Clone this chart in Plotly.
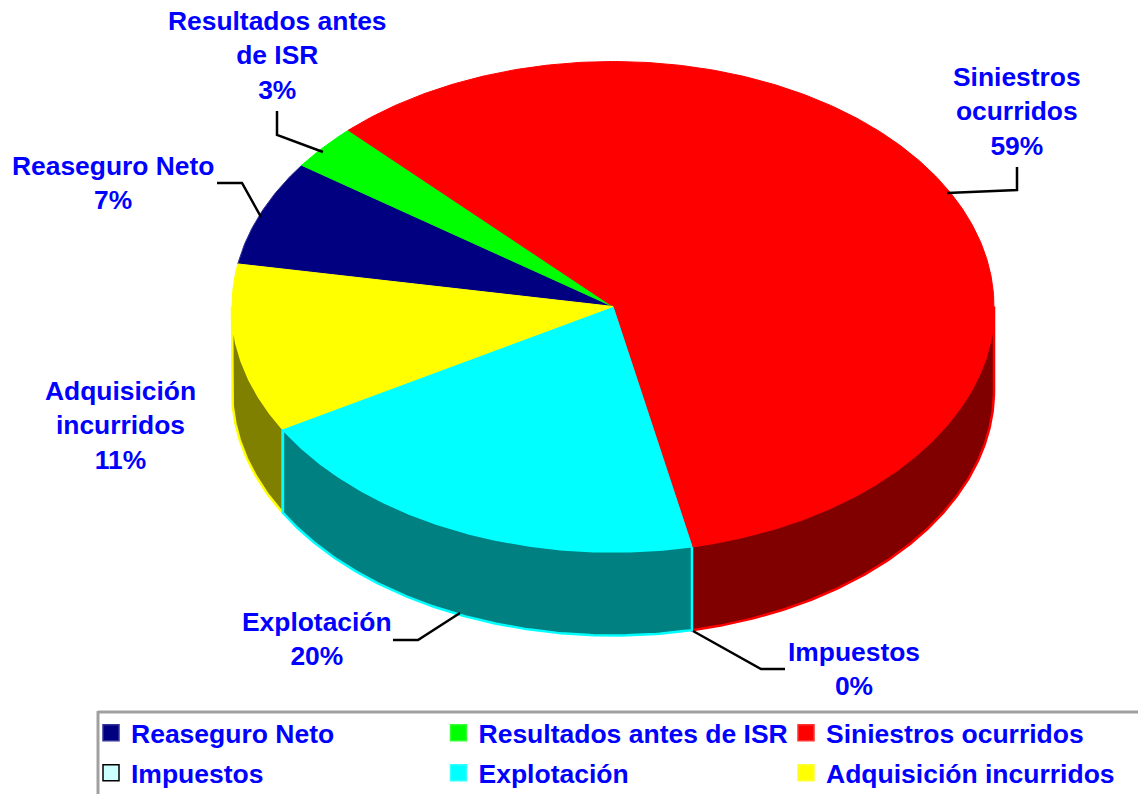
import numpy as np
import plotly.graph_objects as go

categories = ["Reaseguro Neto", "Resultados antes de ISR", "Siniestros ocurridos",
              "Impuestos", "Explotación", "Adquisición incurridos"]
values = [7, 3, 58.9, 0, 20, 11.1]
top_colors = ["#000080", "#00FF00", "#FF0000", "#CCFFFF", "#00FFFF", "#FFFF00"]
side_colors = ["#000040", "#008000", "#800000", "#668080", "#008080", "#808000"]
edge_colors = ["#333399", "#00FF00", "#FF0000", "#000000", "#00FFFF", "#FFFF00"]
legend_lines = ["#333399", "#33FF33", "#FF3333", "#000000", "#33FFFF", "#FFFF33"]

label_texts = ["Reaseguro Neto<br>7%", "Resultados antes<br>de ISR<br>3%", "Siniestros<br>ocurridos<br>59%",
               "Impuestos<br>0%", "Explotación<br>20%", "Adquisición<br>incurridos<br>11%"]
label_x = [113, 277, 1017, 854, 317, 120]
label_y = [183, 55, 111, 669, 639, 425]
leaders = [
    ([217, 242, 261], [183, 183, 217]),
    ([277, 277, 323], [111, 135, 152]),
    ([1017, 1017, 947], [167, 190, 193]),
    ([785, 761, 693], [669, 669, 631]),
    ([393, 418, 460], [640, 640, 613]),
]

CX, CY, RX, RY, DEPTH = 613, 306.5, 381, 245, 84
START = 280.0
FONT = "Liberation Sans"
BLUE = "#0000FF"
FS = 26.4
SIDE_ORDER = [0, 1, 2, 3, 5, 4]


def arc(a0, a1):
    n = max(2, int(abs(a1 - a0) * 2) + 2)
    t = np.radians(np.linspace(a0, a1, n))
    return CX + RX * np.sin(t), CY - RY * np.cos(t)


fig = go.Figure()
edges = START + np.concatenate([[0], np.cumsum(values)]) * 3.6

# Side walls
for i in SIDE_ORDER:
    a0, a1 = edges[i], edges[i + 1]
    for shift in (-360, 0):
        lo, hi = max(a0 + shift, 90), min(a1 + shift, 270)
        if hi > lo:
            x, y = arc(lo, hi)
            fig.add_trace(go.Scatter(
                x=np.concatenate([x, x[::-1], x[:1]]),
                y=np.concatenate([y, y[::-1] + DEPTH, y[:1]]),
                mode="lines", fill="toself", fillcolor=side_colors[i],
                line=dict(color=edge_colors[i], width=2.5),
                showlegend=False, hoverinfo="skip"))

# Top faces
for i, name in enumerate(categories):
    if values[i] == 0:
        continue
    x, y = arc(edges[i], edges[i + 1])
    fig.add_trace(go.Scatter(
        x=np.concatenate([[CX], x, [CX]]), y=np.concatenate([[CY], y, [CY]]),
        mode="lines", fill="toself", fillcolor=top_colors[i],
        line=dict(color=edge_colors[i], width=1),
        name=name, showlegend=False, hoverinfo="name"))

# Leader lines
for lx, ly in leaders:
    fig.add_trace(go.Scatter(x=lx, y=ly, mode="lines", line=dict(color="#000000", width=2.5),
                             showlegend=False, hoverinfo="skip"))

# Legend entries: one legend per row
for i, name in enumerate(categories):
    fig.add_trace(go.Scatter(
        x=[None], y=[None], mode="markers", name=name,
        marker=dict(symbol="square", size=19, color=top_colors[i],
                    line=dict(color=legend_lines[i], width=1.5)),
        legend="legend" if i < 3 else "legend2"))

legend_common = dict(orientation="h", entrywidth=302.5, entrywidthmode="pixels",
                     font=dict(family=FONT, size=26.5, color=BLUE, weight="bold"), bgcolor="rgba(0,0,0,0)",
                     xref="container", yref="container",
                     xanchor="left", yanchor="middle", x=91 / 1138, itemclick=False, itemdoubleclick=False)

annotations = [
    dict(x=x, y=y, text="<b>" + t + "</b>", xref="x", yref="y", showarrow=False, xanchor="center", yanchor="middle",
         align="center", font=dict(family=FONT, size=FS, color=BLUE))
    for x, y, t in zip(label_x, label_y, label_texts)
]

fig.update_layout(
    width=1138, height=794, margin=dict(l=0, r=0, t=0, b=0, pad=0, autoexpand=False),
    paper_bgcolor="#FFFFFF", plot_bgcolor="#FFFFFF",
    xaxis=dict(range=[0, 1138], visible=False, fixedrange=True),
    yaxis=dict(range=[794, 0], visible=False, fixedrange=True),
    annotations=annotations,
    legend=dict(legend_common, y=1 - 733 / 794),
    legend2=dict(legend_common, y=1 - 773 / 794),
    shapes=[
        dict(type="line", xref="x", yref="y", x0=98, x1=1138, y0=712, y1=712, line=dict(color="#A0A0A0", width=3)),
        dict(type="line", xref="x", yref="y", x0=98, x1=98, y0=711, y1=794, line=dict(color="#A0A0A0", width=3)),
    ],
)

fig.write_html("out.html", post_script="document.body.style.margin='0';", config={"displayModeBar": False})
